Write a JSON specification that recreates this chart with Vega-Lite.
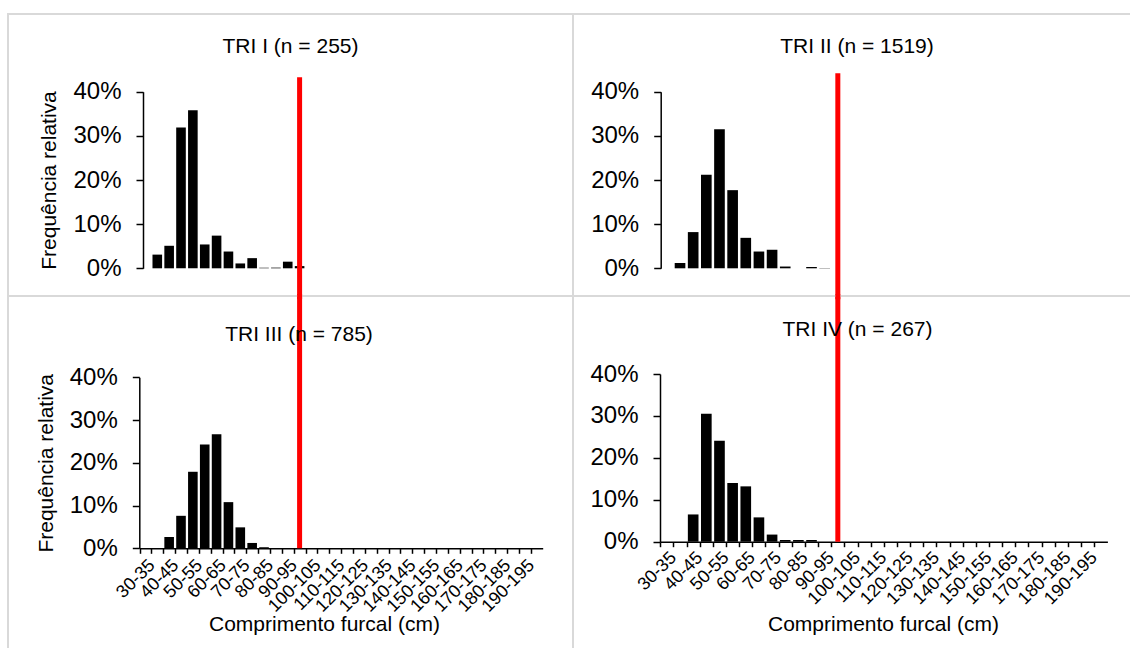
{
  "$schema": "https://vega.github.io/schema/vega-lite/v6.json",
  "background": "white",
  "padding": {"left": 7, "top": 13, "right": -4, "bottom": -3},
  "bounds": "flush",
  "spacing": 0,
  "columns": 2,
  "datasets": {
    "tri1": [
      {"cat": "35-40", "pct": 0.031}, {"cat": "40-45", "pct": 0.051}, {"cat": "45-50", "pct": 0.319},
      {"cat": "50-55", "pct": 0.358}, {"cat": "55-60", "pct": 0.054}, {"cat": "60-65", "pct": 0.074},
      {"cat": "65-70", "pct": 0.038}, {"cat": "70-75", "pct": 0.011}, {"cat": "75-80", "pct": 0.023},
      {"cat": "80-85", "pct": 0.0015}, {"cat": "85-90", "pct": 0.0015}, {"cat": "90-95", "pct": 0.015},
      {"cat": "95-100", "pct": 0.005}
    ],
    "tri2": [
      {"cat": "35-40", "pct": 0.012}, {"cat": "40-45", "pct": 0.082}, {"cat": "45-50", "pct": 0.212},
      {"cat": "50-55", "pct": 0.315}, {"cat": "55-60", "pct": 0.177}, {"cat": "60-65", "pct": 0.069},
      {"cat": "65-70", "pct": 0.038}, {"cat": "70-75", "pct": 0.042}, {"cat": "75-80", "pct": 0.004},
      {"cat": "85-90", "pct": 0.003}, {"cat": "90-95", "pct": 0.0007}
    ],
    "tri3": [
      {"cat": "40-45", "pct": 0.0265}, {"cat": "45-50", "pct": 0.076}, {"cat": "50-55", "pct": 0.179},
      {"cat": "55-60", "pct": 0.243}, {"cat": "60-65", "pct": 0.267}, {"cat": "65-70", "pct": 0.108},
      {"cat": "70-75", "pct": 0.049}, {"cat": "75-80", "pct": 0.0125}, {"cat": "80-85", "pct": 0.0025}
    ],
    "tri4": [
      {"cat": "40-45", "pct": 0.065}, {"cat": "45-50", "pct": 0.305}, {"cat": "50-55", "pct": 0.241},
      {"cat": "55-60", "pct": 0.14}, {"cat": "60-65", "pct": 0.132}, {"cat": "65-70", "pct": 0.058},
      {"cat": "70-75", "pct": 0.017}, {"cat": "75-80", "pct": 0.004}, {"cat": "80-85", "pct": 0.004},
      {"cat": "85-90", "pct": 0.004}
    ],
    "lim1": [{"cat": "95-100", "lo": -0.07, "hi": 0.433}],
    "lim2": [{"cat": "95-100", "lo": -0.07, "hi": 0.442}],
    "lim3": [{"cat": "95-100", "lo": 0, "hi": 0.595}],
    "lim4": [{"cat": "95-100", "lo": 0, "hi": 0.59}]
  },
  "config": {
    "font": "Liberation Sans",
    "view": {"stroke": "#d9d9d9", "strokeWidth": 2},
    "axis": {
      "grid": false, "domainColor": "#000000", "domainWidth": 1.5, "tickColor": "#000000", "tickWidth": 1.5,
      "labelColor": "#000000", "titleColor": "#000000", "labelFont": "Liberation Sans", "titleFont": "Liberation Sans",
      "titleFontWeight": "normal"
    },
    "title": {"font": "Liberation Sans", "fontSize": 21, "fontWeight": "normal", "color": "#000000", "anchor": "middle", "frame": "group", "baseline": "alphabetic"}
  },
  "concat": [
    {
      "width": 565, "height": 282,
      "title": {"text": "TRI I (n = 255)", "offset": -43, "dx": 0},
      "layer": [
        {
          "data": {"name": "tri1"},
          "mark": {"type": "bar", "color": "#000000"},
          "encoding": {
            "x": {"field": "cat", "type": "nominal", "title": null, "axis": null,
              "scale": {"domain": ["30-35","35-40","40-45","45-50","50-55","55-60","60-65","65-70","70-75","75-80","80-85","85-90","90-95","95-100","100-105","105-110","110-115","115-120","120-125","125-130","130-135","135-140","140-145","145-150","150-155","155-160","160-165","165-170","170-175","175-180","180-185","185-190","190-195","195-200"],
                "range": [131.5, 534.7], "paddingInner": 0.19, "paddingOuter": 0.095}},
            "y": {"field": "pct", "type": "quantitative", "title": "Frequência relativa",
              "scale": {"domain": [0, 0.4], "range": [254.3, 77.7], "nice": false},
              "axis": {"orient": "left", "offset": -135, "values": [0, 0.1, 0.2, 0.3, 0.4], "format": ".0%", "tickSize": 7, "labelFontSize": 24, "labelPadding": 15, "titleFontSize": 21, "titlePadding": 13}}
          }
        },
        {
          "data": {"name": "lim1"},
          "mark": {"type": "rule", "color": "#ff0000", "strokeWidth": 5},
          "encoding": {
            "x": {"field": "cat", "type": "nominal", "title": null, "axis": null},
            "y": {"field": "lo", "type": "quantitative", "title": "Frequência relativa"},
            "y2": {"field": "hi"}
          }
        }
      ]
    },
    {
      "width": 560, "height": 282,
      "title": {"text": "TRI II (n = 1519)", "offset": -43, "dx": 4},
      "layer": [
        {
          "data": {"name": "tri2"},
          "mark": {"type": "bar", "color": "#000000"},
          "encoding": {
            "x": {"field": "cat", "type": "nominal", "title": null, "axis": null,
              "scale": {"domain": ["30-35","35-40","40-45","45-50","50-55","55-60","60-65","65-70","70-75","75-80","80-85","85-90","90-95","95-100","100-105","105-110","110-115","115-120","120-125","125-130","130-135","135-140","140-145","145-150","150-155","155-160","160-165","165-170","170-175","175-180","180-185","185-190","190-195","195-200"],
                "range": [87.3, 534.4], "paddingInner": 0.19, "paddingOuter": 0.095}},
            "y": {"field": "pct", "type": "quantitative", "title": null,
              "scale": {"domain": [0, 0.4], "range": [254.3, 77.7], "nice": false},
              "axis": {"orient": "left", "offset": -87.7, "values": [0, 0.1, 0.2, 0.3, 0.4], "format": ".0%", "tickSize": 7, "labelFontSize": 24, "labelPadding": 15}}
          }
        },
        {
          "data": {"name": "lim2"},
          "mark": {"type": "rule", "color": "#ff0000", "strokeWidth": 5},
          "encoding": {
            "x": {"field": "cat", "type": "nominal", "title": null, "axis": null},
            "y": {"field": "lo", "type": "quantitative", "title": null},
            "y2": {"field": "hi"}
          }
        }
      ]
    },
    {
      "width": 565, "height": 354,
      "title": {"text": "TRI III (n = 785)", "offset": -54, "dx": 8.5},
      "layer": [
        {
          "data": {"name": "tri3"},
          "mark": {"type": "bar", "color": "#000000"},
          "encoding": {
            "x": {"field": "cat", "type": "nominal", "title": "Comprimento furcal (cm)",
              "scale": {"domain": ["30-35","35-40","40-45","45-50","50-55","55-60","60-65","65-70","70-75","75-80","80-85","85-90","90-95","95-100","100-105","105-110","110-115","115-120","120-125","125-130","130-135","135-140","140-145","145-150","150-155","155-160","160-165","165-170","170-175","175-180","180-185","185-190","190-195","195-200"],
                "range": [131.5, 534.7], "paddingInner": 0.19, "paddingOuter": 0.095},
              "axis": {"orient": "bottom", "offset": -101.7, "bandPosition": 0, "tickOffset": -1.1, "labelOffset": 7.5, "labelAngle": -45, "labelAlign": "right", "labelBaseline": "middle", "labelFontSize": 18, "labelPadding": 9, "labelExpr": "parseInt(datum.value) % 10 == 0 ? datum.value : ''", "tickSize": 5, "titleFontSize": 21, "titleX": 316, "titleY": 82.5, "titleBaseline": "alphabetic", "titleAlign": "center"}},
            "y": {"field": "pct", "type": "quantitative", "title": "Frequência relativa",
              "scale": {"domain": [0, 0.4], "range": [252.3, 81.3], "nice": false},
              "axis": {"orient": "left", "offset": -131.3, "values": [0, 0.1, 0.2, 0.3, 0.4], "format": ".0%", "tickSize": 7, "labelFontSize": 24, "labelPadding": 15, "titleFontSize": 21, "titlePadding": 13}}
          }
        },
        {
          "data": {"name": "lim3"},
          "mark": {"type": "rule", "color": "#ff0000", "strokeWidth": 5},
          "encoding": {
            "x": {"field": "cat", "type": "nominal", "title": "Comprimento furcal (cm)"},
            "y": {"field": "lo", "type": "quantitative", "title": "Frequência relativa"},
            "y2": {"field": "hi"}
          }
        }
      ]
    },
    {
      "width": 560, "height": 354,
      "title": {"text": "TRI IV (n = 267)", "offset": -48, "dx": 4.5},
      "layer": [
        {
          "data": {"name": "tri4"},
          "mark": {"type": "bar", "color": "#000000"},
          "encoding": {
            "x": {"field": "cat", "type": "nominal", "title": "Comprimento furcal (cm)",
              "scale": {"domain": ["30-35","35-40","40-45","45-50","50-55","55-60","60-65","65-70","70-75","75-80","80-85","85-90","90-95","95-100","100-105","105-110","110-115","115-120","120-125","125-130","130-135","135-140","140-145","145-150","150-155","155-160","160-165","165-170","170-175","175-180","180-185","185-190","190-195","195-200"],
                "range": [87.3, 534.4], "paddingInner": 0.19, "paddingOuter": 0.095},
              "axis": {"orient": "bottom", "offset": -108.3, "bandPosition": 0, "tickOffset": -1.25, "labelOffset": 7.6, "labelAngle": -45, "labelAlign": "right", "labelBaseline": "middle", "labelFontSize": 18, "labelPadding": 8, "labelExpr": "parseInt(datum.value) % 10 == 0 ? datum.value : ''", "tickSize": 5, "titleFontSize": 21, "titleX": 310, "titleY": 88.5, "titleBaseline": "alphabetic", "titleAlign": "center"}},
            "y": {"field": "pct", "type": "quantitative", "title": null,
              "scale": {"domain": [0, 0.4], "range": [245.7, 78], "nice": false},
              "axis": {"orient": "left", "offset": -87, "values": [0, 0.1, 0.2, 0.3, 0.4], "format": ".0%", "tickSize": 7, "labelFontSize": 24, "labelPadding": 15}}
          }
        },
        {
          "data": {"name": "lim4"},
          "mark": {"type": "rule", "color": "#ff0000", "strokeWidth": 5},
          "encoding": {
            "x": {"field": "cat", "type": "nominal", "title": "Comprimento furcal (cm)"},
            "y": {"field": "lo", "type": "quantitative", "title": null},
            "y2": {"field": "hi"}
          }
        }
      ]
    }
  ]
}
